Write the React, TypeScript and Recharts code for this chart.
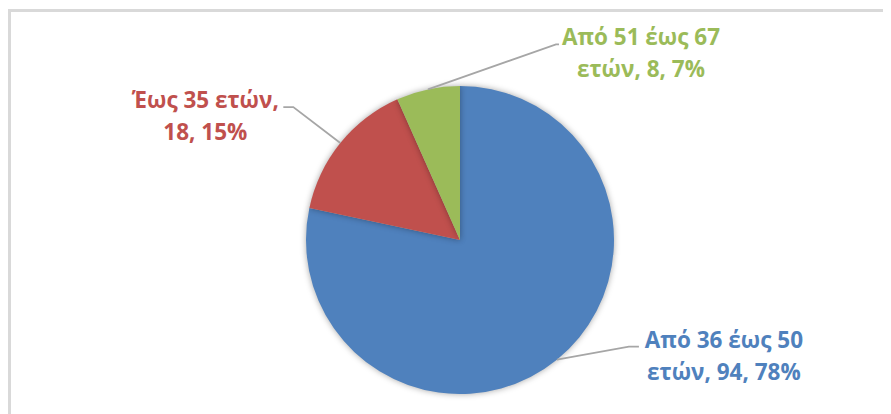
import { PieChart, Pie, Cell } from "recharts";

const categories = ["Από 36 έως 50 ετών", "Έως 35 ετών", "Από 51 έως 67 ετών"];
const counts = [94, 18, 8];
const colors = ["#4F81BD", "#C0504D", "#9BBB59"];

// words on the first line of each label, and where the leader line bends / text sits
const firstLineWords = [4, 3, 4];
const labelLayout = [
  { elbow: [72, -13], end: [82, -13], textDx: 167 },
  { elbow: [-47, -36], end: [-57, -36], textDx: -135 },
  { elbow: [128, -45], end: [131, -45], textDx: 213 },
];

const data = categories.map((name, i) => ({ name, value: counts[i] }));

const RAD = Math.PI / 180;

function renderLabel(props: any) {
  const { cx, cy, midAngle, outerRadius, index, value, percent, name } = props;
  const layout = labelLayout[index];
  const sx = cx + outerRadius * Math.cos(-midAngle * RAD);
  const sy = cy + outerRadius * Math.sin(-midAngle * RAD);
  const ex = sx + layout.elbow[0];
  const ey = sy + layout.elbow[1];
  const tx = sx + layout.end[0];
  const ty = sy + layout.end[1];
  const words = `${name}, ${value}, ${Math.round(percent * 100)}%`.split(" ");
  const n = firstLineWords[index];
  const line1 = words.slice(0, n).join(" ");
  const line2 = words.slice(n).join(" ");
  const textX = sx + layout.textDx;
  return (
    <g>
      <polyline
        points={`${sx},${sy} ${ex},${ey} ${tx},${ty}`}
        fill="none"
        stroke="#A6A6A6"
        strokeWidth={1.8}
      />
      <text
        x={textX}
        y={ty + 1}
        fill={colors[index]}
        textAnchor="middle"
        fontFamily="'Open Sans', sans-serif"
        fontWeight={700}
        fontSize={22.5}
      >
        <tspan x={textX} dy={0}>{line1}</tspan>
        <tspan x={textX} dy={32}>{line2}</tspan>
      </text>
    </g>
  );
}

export default function App() {
  return (
    <div
      style={{
        width: 881,
        height: 405,
        marginTop: 1,
        borderTop: "3px solid #D9D9D9",
        borderLeft: "3px solid #D9D9D9",
        background: "#fff",
      }}
    >
      <style>{`.recharts-pie-sector path { filter: drop-shadow(0 0 3px rgba(0,0,0,0.35)); }`}</style>
      <PieChart width={880} height={404}>
        <Pie
          data={data}
          dataKey="value"
          nameKey="name"
          cx={444}
          cy={223}
          outerRadius={154}
          startAngle={90}
          endAngle={-270}
          stroke="none"
          labelLine={false}
          label={renderLabel}
          isAnimationActive={false}
        >
          {data.map((d, i) => (
            <Cell key={d.name} fill={colors[i]} />
          ))}
        </Pie>
      </PieChart>
    </div>
  );
}
